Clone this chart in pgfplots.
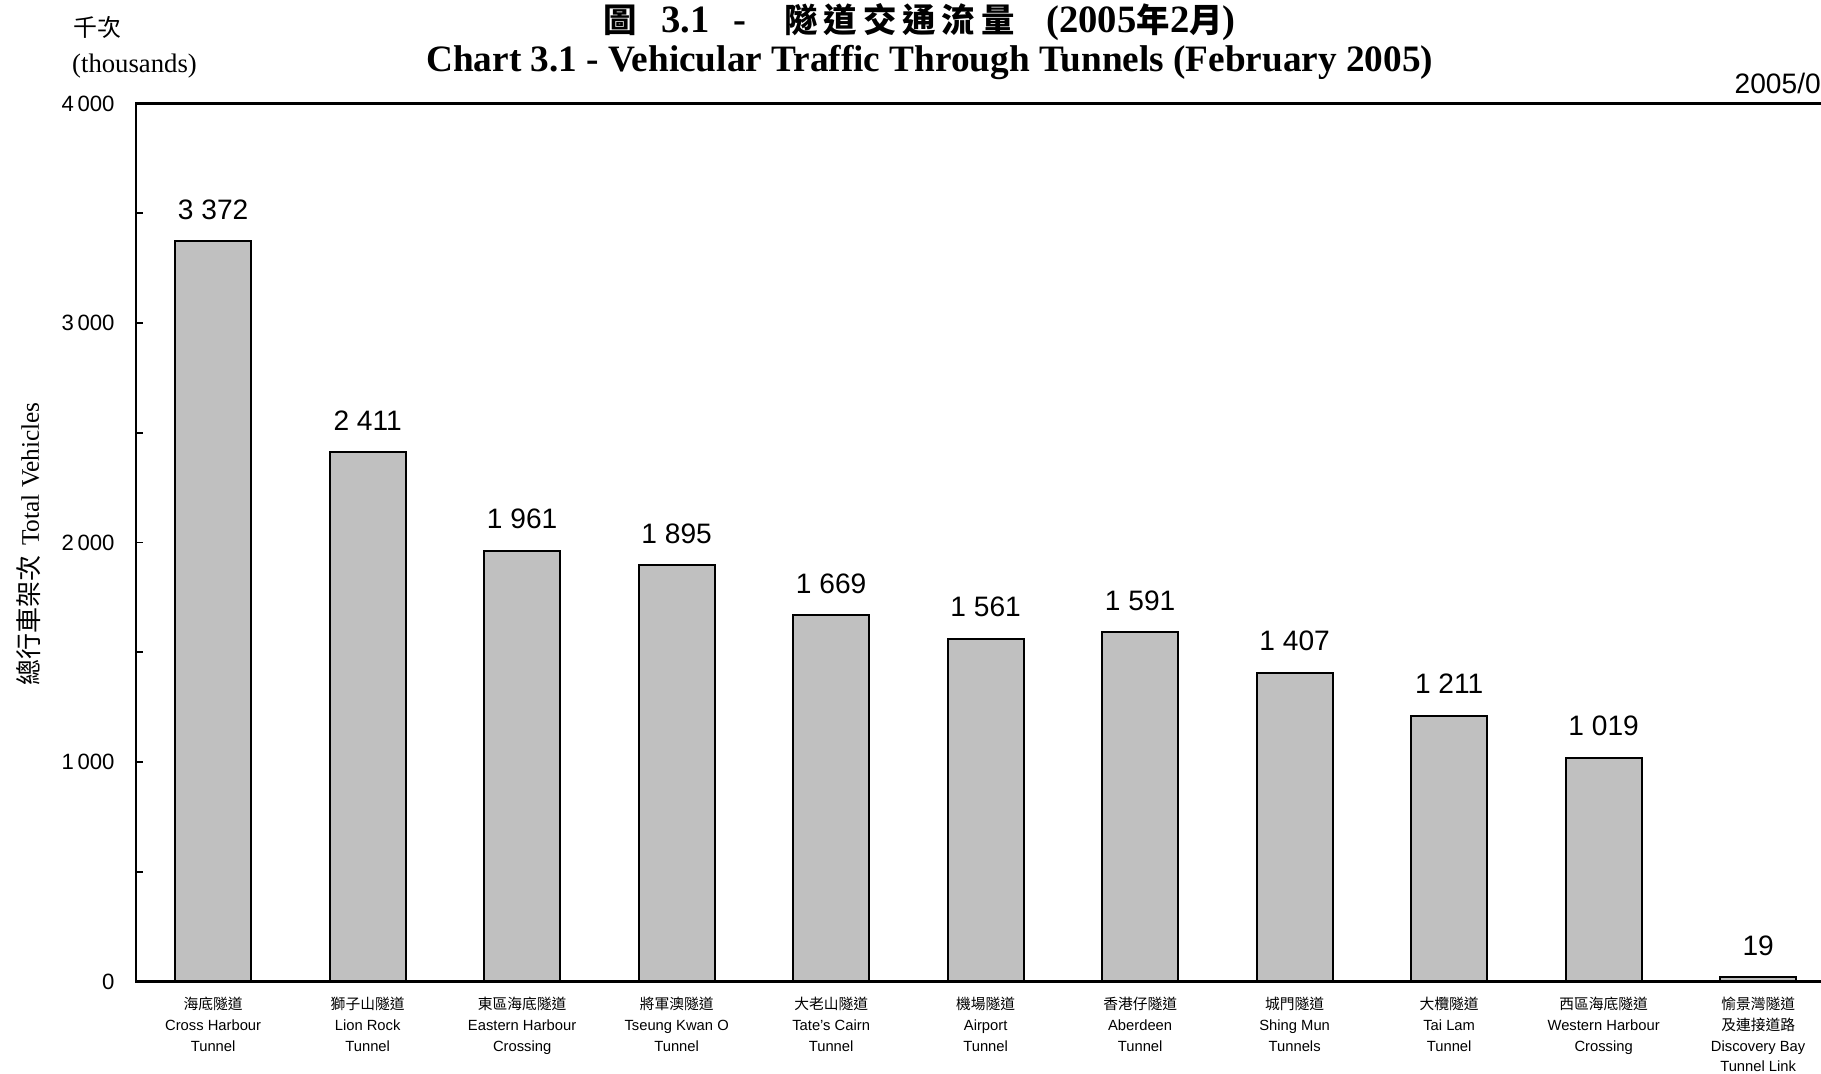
\documentclass[border=0pt]{standalone}
\usepackage{fontspec}
\setmainfont{Liberation Sans}
\newfontfamily\serif{Liberation Serif}
\newfontfamily\cjk{Noto Sans CJK TC}
\usepackage{pgfplots}
\pgfplotsset{compat=1.18}
\definecolor{barfill}{HTML}{C0C0C0}
\begin{document}
\begin{tikzpicture}
\begin{axis}[name=ax, scale only axis, width=169.95mm, height=87.8mm,
 xmin=-0.5, xmax=10.5, ymin=0, ymax=4000, enlargelimits=false,
 ybar, bar width=7.6mm,
 axis line style={line width=0.7pt},
 ytick={0,1000,2000,3000,4000}, minor ytick={500,1500,2500,3500},
 tick align=inside, major tick length=0.7mm, minor tick length=0.7mm,
 tick style={black, line width=0.5pt},
 xtick=data, xtick style={draw=none},
 xticklabels={
  {{\cjk 海底隧道}\\Cross Harbour\\Tunnel},
  {{\cjk 獅子山隧道}\\Lion Rock\\Tunnel},
  {{\cjk 東區海底隧道}\\Eastern Harbour\\Crossing},
  {{\cjk 將軍澳隧道}\\Tseung Kwan O\\Tunnel},
  {{\cjk 大老山隧道}\\Tate's Cairn\\Tunnel},
  {{\cjk 機場隧道}\\Airport\\Tunnel},
  {{\cjk 香港仔隧道}\\Aberdeen\\Tunnel},
  {{\cjk 城門隧道}\\Shing Mun\\Tunnels},
  {{\cjk 大欖隧道}\\Tai Lam\\Tunnel},
  {{\cjk 西區海底隧道}\\Western Harbour\\Crossing},
  {{\cjk 愉景灣隧道}\\{\cjk 及連接道路}\\Discovery Bay\\Tunnel Link}},
 /pgf/number format/assume math mode=true,
 /pgf/number format/1000 sep={\,},
 yticklabel style={font=\fontsize{6.3}{7}\selectfont, xshift=-0.9mm},
 xticklabel style={font=\fontsize{4.2}{5.9}\selectfont, align=center, anchor=north, yshift=-0.35mm},
 nodes near coords={\pgfmathprintnumber[1000 sep={\ }]{\pgfplotspointmeta}},
 every node near coord/.append style={font=\fontsize{8}{9}\selectfont, yshift=0.9mm},
 clip=false,
]
\addplot[fill=barfill, draw=black, line width=0.6pt] coordinates {
 (0,3372) (1,2411) (2,1961) (3,1895) (4,1669) (5,1561) (6,1591) (7,1407) (8,1211) (9,1019) (10,19)};
\end{axis}
% titles
\node[anchor=base, font=\cjk\bfseries\fontsize{9.5}{10}\selectfont] at ([xshift=48.41mm, yshift=94.84mm]ax.south west) {圖};
\node[anchor=base, font=\serif\bfseries\fontsize{11}{12}\selectfont] at ([xshift=54.96mm, yshift=94.84mm]ax.south west) {3.1};
\node[anchor=base, font=\serif\bfseries\fontsize{11}{12}\selectfont] at ([xshift=60.41mm, yshift=94.84mm]ax.south west) {-};
\node[anchor=base, font=\cjk\bfseries\fontsize{9.5}{10}\selectfont] at ([xshift=76.36mm, yshift=94.84mm]ax.south west) {隧\hspace{1.7pt}道\hspace{1.7pt}交\hspace{1.7pt}通\hspace{1.7pt}流\hspace{1.7pt}量};
\node[anchor=base, font=\serif\bfseries\fontsize{11}{12}\selectfont] at ([xshift=100.51mm, yshift=94.84mm]ax.south west) {(2005{\cjk\fontsize{9.5}{10}\selectfont 年}2{\cjk\fontsize{9.5}{10}\selectfont 月})};
\node[anchor=base, font=\serif\bfseries\fontsize{10.6}{12}\selectfont] at ([xshift=79.38mm, yshift=90.94mm]ax.south west) {Chart 3.1 - Vehicular Traffic Through Tunnels (February 2005)};
\node[font=\cjk\fontsize{6.8}{7}\selectfont] at ([xshift=-3.84mm, yshift=95.44mm]ax.south west) {千次};
\node[font=\serif\fontsize{7.6}{8}\selectfont] at ([xshift=-0.14mm, yshift=91.54mm]ax.south west) {(thousands)};
\node[font=\fontsize{8}{9}\selectfont, anchor=west, inner sep=0pt] at ([xshift=159.81mm, yshift=89.84mm]ax.south west) {2005/03};
\node[rotate=90, inner sep=0pt] at ([xshift=-10.69mm, yshift=43.74mm]ax.south west) {{\cjk\fontsize{7.4}{8}\selectfont 總行車架次} {\serif\fontsize{7.2}{8}\selectfont Total Vehicles}};
\pgfresetboundingbox
\path ([xshift=-13.59mm, yshift=-9.26mm]ax.south west) rectangle ([xshift=168.51mm, yshift=98.14mm]ax.south west);
\end{tikzpicture}
\end{document}
